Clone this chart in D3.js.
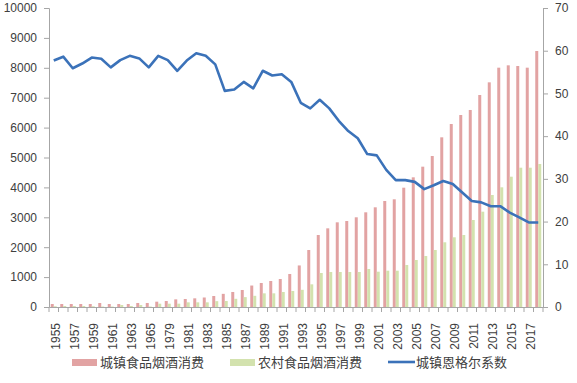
<!DOCTYPE html>
<html>
<head>
<meta charset="utf-8">
<script src="https://cdn.jsdelivr.net/npm/d3@7"></script>
<style>
  body { margin: 0; background: #fff; }
  svg text { font-family: "Liberation Sans", sans-serif; fill: #404040; }
  .legend text { font-family: "Noto Sans CJK SC", sans-serif; }
</style>
</head>
<body>
<svg id="chart" width="577" height="383"></svg>
<script>
// categories (years shown on the axis)
const years = ["1955","1956","1957","1958","1959","1960","1961","1962","1963","1964","1965",
  "1978","1979","1980","1981","1982","1983","1984","1985","1986","1987","1988","1989","1990",
  "1991","1992","1993","1994","1995","1996","1997","1998","1999","2000","2001","2002","2003",
  "2004","2005","2006","2007","2008","2009","2010","2011","2012","2013","2014","2015","2016",
  "2017","2018"];

// 城镇食品烟酒消费
const urbanFood = [100,100,100,100,100,134,100,100,100,134,134,
  178,200,256,268,290,318,368,440,502,569,718,803,870,
  936,1104,1390,1906,2408,2631,2832,2876,3000,3167,3334,3545,3602,
  3990,4337,4693,5050,5675,6120,6421,6589,7090,7514,8004,8083,8060,
  8004,8562];

// 农村食品烟酒消费
const ruralFood = [25,33,33,33,25,15,15,67,33,67,15,
  111,111,111,156,156,156,195,200,274,330,374,457,457,
  502,535,575,758,1137,1171,1171,1171,1171,1271,1181,1214,1214,
  1405,1572,1706,1906,2164,2331,2408,2910,3188,3746,4003,4358,4659,
  4659,4783];

// 城镇恩格尔系数
const engel = [57.7,58.6,55.9,57.0,58.4,58.1,56.1,57.8,58.8,58.2,56.1,
  58.8,57.8,55.3,57.7,59.4,58.8,56.8,50.6,50.9,52.7,51.2,55.3,54.2,
  54.5,52.7,47.8,46.5,48.5,46.5,43.6,41.2,39.5,35.8,35.5,32.1,29.7,
  29.7,29.3,27.6,28.5,29.5,28.8,26.8,24.8,24.5,23.6,23.6,22.1,21.0,
  19.8,19.8];

const leftTicks = d3.range(0, 10001, 1000);
const rightTicks = d3.range(0, 71, 10);

const svg = d3.select("#chart");
const plotLeft = 49, plotRight = 543, plotTop = 8, plotBottom = 307;
const axisColor = "#a6a6a6";

const x0 = d3.scaleBand()
  .domain(years)
  .range([plotLeft, plotRight])
  .paddingInner(0.37)
  .paddingOuter(0.185);

const x1 = d3.scaleBand()
  .domain(["urban", "rural"])
  .range([0, x0.bandwidth()]);

const yL = d3.scaleLinear().domain([0, 10000]).range([plotBottom, plotTop]);
const yR = d3.scaleLinear().domain([0, 70]).range([plotBottom, plotTop]);

// bars
const groups = svg.append("g").selectAll("g")
  .data(years)
  .join("g")
  .attr("transform", d => `translate(${x0(d)},0)`);

groups.append("rect")
  .attr("x", x1("urban"))
  .attr("width", x1.bandwidth())
  .attr("y", (d, i) => yL(urbanFood[i]))
  .attr("height", (d, i) => plotBottom - yL(urbanFood[i]))
  .attr("fill", "#e2a3a3");

groups.append("rect")
  .attr("x", x1("rural"))
  .attr("width", x1.bandwidth())
  .attr("y", (d, i) => yL(ruralFood[i]))
  .attr("height", (d, i) => plotBottom - yL(ruralFood[i]))
  .attr("fill", "#d3e2ae");

// axes
const gL = svg.append("g")
  .attr("transform", `translate(${plotLeft},0)`)
  .call(d3.axisLeft(yL).tickValues(leftTicks).tickSize(5).tickPadding(7).tickFormat(d3.format("d")));
const gR = svg.append("g")
  .attr("transform", `translate(${plotRight},0)`)
  .call(d3.axisRight(yR).tickValues(rightTicks).tickSize(5).tickPadding(7));

const gB = svg.append("g")
  .attr("transform", `translate(0,${plotBottom})`)
  .call(d3.axisBottom(x0).tickSize(0).tickPadding(0)
    .tickFormat((d, i) => i % 2 === 0 ? d : ""));

[gL, gR, gB].forEach(g => {
  g.select(".domain").attr("stroke", axisColor);
  g.selectAll(".tick line").attr("stroke", axisColor);
  g.selectAll("text").attr("font-size", "12px").attr("fill", "#404040");
});

// category tick marks at band boundaries
const step = x0.step();
gB.selectAll(".bound")
  .data(d3.range(years.length + 1))
  .join("line")
  .attr("class", "bound")
  .attr("x1", i => plotLeft + i * step)
  .attr("x2", i => plotLeft + i * step)
  .attr("y1", 0).attr("y2", 5)
  .attr("stroke", axisColor);

gB.selectAll(".tick text")
  .attr("text-anchor", "end")
  .attr("y", 0)
  .attr("dy", "0.35em")
  .attr("transform", "translate(2,16) rotate(-90)");

// line
const line = d3.line()
  .x((d, i) => x0(years[i]) + x0.bandwidth() / 2)
  .y(d => yR(d));

svg.append("path")
  .datum(engel)
  .attr("fill", "none")
  .attr("stroke", "#3b72b9")
  .attr("stroke-width", 2.6)
  .attr("stroke-linejoin", "round")
  .attr("d", line);

// legend
const legend = svg.append("g").attr("class", "legend");
const legendItems = [
  {name: "城镇食品烟酒消费", x: 72, type: "bar", color: "#e2a3a3"},
  {name: "农村食品烟酒消费", x: 230, type: "bar", color: "#d3e2ae"},
  {name: "城镇恩格尔系数", x: 388, type: "line", color: "#3b72b9"}
];
legendItems.forEach(item => {
  if (item.type === "bar") {
    legend.append("rect")
      .attr("x", item.x).attr("y", 359)
      .attr("width", 25).attr("height", 7)
      .attr("fill", item.color);
  } else {
    legend.append("line")
      .attr("x1", item.x).attr("x2", item.x + 27)
      .attr("y1", 362).attr("y2", 362)
      .attr("stroke", item.color).attr("stroke-width", 2.6);
  }
  legend.append("text")
    .attr("x", item.x + 28)
    .attr("y", 362)
    .attr("dy", "0.35em")
    .attr("font-size", "13px")
    .text(item.name);
});
</script>
</body>
</html>
